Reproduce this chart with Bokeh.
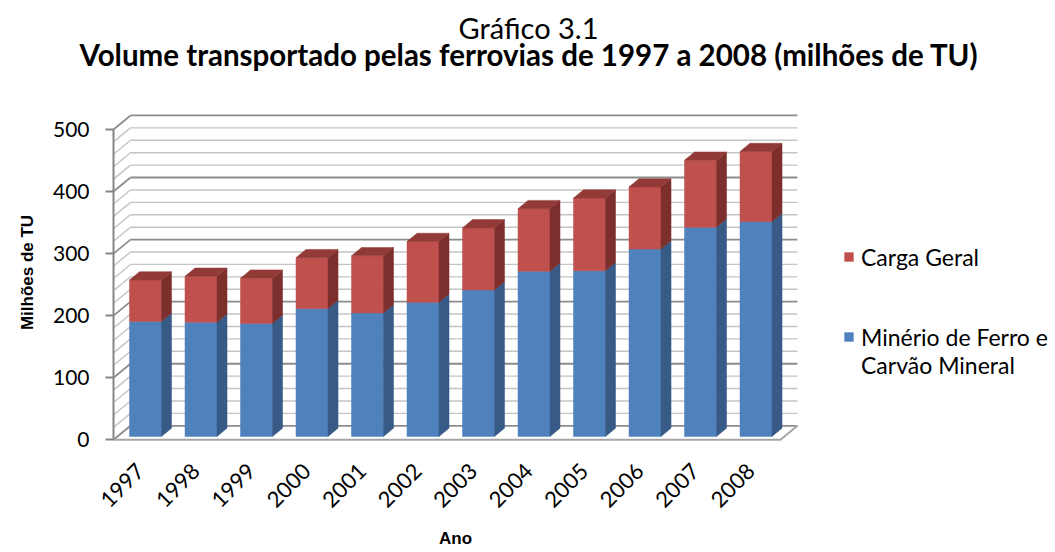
import numpy as np
from bokeh.plotting import figure
from bokeh.models import Range1d, FixedTicker, Legend, LegendItem, LinearAxis
from bokeh.core.properties import value
from bokeh.embed import file_html
from bokeh.resources import INLINE

# ---------------- data ----------------
years = ["1997", "1998", "1999", "2000", "2001", "2002",
         "2003", "2004", "2005", "2006", "2007", "2008"]
minerio = [185, 184, 182, 206, 199, 216, 236, 266, 267, 302, 337, 346]
carga = [67, 74, 73, 82, 92, 98, 100, 101, 117, 100, 108, 113]
y_ticks = [0, 100, 200, 300, 400, 500]
grid_step = 20
title_top = "Gráfico 3.1"
title_main = "Volume transportado pelas ferrovias de 1997 a 2008 (milhões de TU)"
y_title = "Milhões de TU"
x_title = "Ano"
label_carga = "Carga Geral"
label_minerio = ["Minério de Ferro e", "Carvão Mineral"]

# ---------------- style / geometry ----------------
BLUE_FRONT, BLUE_SIDE = "#4F81BD", "#375A87"
RED_FRONT, RED_SIDE, RED_TOP = "#C0504D", "#7C2F2D", "#923A37"
GRID_MINOR, GRID_MAJOR, AXIS = "#C4C4C4", "#8C8C8C", "#868686"

W, H = 1055, 552
SX = 55.5        # px per category step
SY = 0.6207      # px per unit
BAR0_PX = 145    # page x of first bar centre
ZERO_PX = 439.3  # page y of value 0 on the front axis


def px_x(ix):
    return (ix - BAR0_PX) / SX


def px_y(iy):
    return (ZERO_PX - iy) / SY


x_range = Range1d(px_x(0), px_x(W))
y_range = Range1d(px_y(H), px_y(0))

DX = 17 / SX     # depth offset (x units)
DY = 14 / SY     # depth offset (y units)
n = len(years)
xc = np.arange(n, dtype=float)
m = np.array(minerio, dtype=float)
c = np.array(carga, dtype=float)
tot = m + c
XL = px_x(113)          # front-left (value axis)
XR = n - 0.56           # front-right corner of the floor
bw = 32 / SX
d1, d2 = 0.24, 0.83
B0 = d1 * DY
sdx = (d2 - d1) * DX
sdy = (d2 - d1) * DY

p = figure(width=W, height=H, x_range=x_range, y_range=y_range,
           output_backend="svg", toolbar_location=None,
           x_axis_location=None, y_axis_location=None,
           min_border=0, min_border_left=0, min_border_right=0,
           min_border_top=0, min_border_bottom=0)
p.outline_line_color = None
p.background_fill_color = "white"
p.border_fill_color = "white"
p.grid.visible = False

# walls: back wall + side wall gridlines
gv = np.arange(y_ticks[0], y_ticks[-1] + 1, grid_step)
major = (gv % 100 == 0)
for sel, col, lw in [(~major, GRID_MINOR, 1.4), (major, GRID_MAJOR, 1.8)]:
    v = gv[sel].astype(float)
    k = len(v)
    p.segment(x0=np.full(k, XL + DX), y0=v + DY, x1=np.full(k, XR + DX), y1=v + DY,
              line_color=col, line_width=lw)
    p.segment(x0=np.full(k, XL), y0=v, x1=np.full(k, XL + DX), y1=v + DY,
              line_color=col, line_width=lw)

# floor edge
p.line(x=[XL, XR, XR + DX], y=[0, 0, DY], line_color="#A6A6A6", line_width=2)

# bars
left = xc - bw / 2
right = xc + bw / 2
blue = p.quad(left=left, right=right, bottom=B0, top=B0 + m,
              fill_color=BLUE_FRONT, line_color=BLUE_FRONT, line_width=0.5)
red = p.quad(left=left, right=right, bottom=B0 + m, top=B0 + tot,
             fill_color=RED_FRONT, line_color=RED_FRONT, line_width=0.5)
side_xs = [[r, r + sdx, r + sdx, r] for r in right]
p.patches(xs=side_xs, ys=[[B0, B0 + sdy, B0 + mi + sdy, B0 + mi] for mi in m],
          fill_color=BLUE_SIDE, line_color=BLUE_SIDE, line_width=0.5)
p.patches(xs=side_xs, ys=[[B0 + mi, B0 + mi + sdy, B0 + ti + sdy, B0 + ti] for mi, ti in zip(m, tot)],
          fill_color=RED_SIDE, line_color=RED_SIDE, line_width=0.5)
p.patches(xs=[[l, r, r + sdx, l + sdx] for l, r in zip(left, right)],
          ys=[[t, t, t + sdy, t + sdy] for t in B0 + tot],
          fill_color=RED_TOP, line_color=RED_TOP, line_width=0.5)
dummy = p.quad(left=[], right=[], bottom=[], top=[], fill_alpha=0, line_alpha=0)

# value axis (front-left edge)
ya = LinearAxis(fixed_location=XL, ticker=FixedTicker(ticks=y_ticks))
ya.bounds = (y_ticks[0], y_ticks[-1])
ya.axis_line_color = AXIS
ya.axis_line_width = 2
ya.major_tick_line_color = AXIS
ya.major_tick_line_width = 2
ya.major_tick_out = 8
ya.major_tick_in = 0
ya.minor_tick_line_color = None
ya.major_label_text_font = "Lato"
ya.major_label_text_font_size = "21px"
ya.major_label_text_color = "#000000"
ya.major_label_standoff = 16
p.add_layout(ya, "left")

# category axis (labels anchored slightly left of each bar centre)
tick_pos = [round(i - 0.09, 2) for i in range(n)]
xa = LinearAxis(fixed_location=px_y(444), ticker=FixedTicker(ticks=tick_pos))
xa.major_label_overrides = {t: y for t, y in zip(tick_pos, years)}
xa.major_label_orientation = np.pi / 4
xa.axis_line_color = None
xa.major_tick_line_color = None
xa.minor_tick_line_color = None
xa.major_label_text_font = "Lato"
xa.major_label_text_font_size = "22px"
xa.major_label_text_color = "#000000"
xa.major_label_standoff = 17
p.add_layout(xa, "below")

# axis titles
p.text(x=[px_x(27)], y=[px_y(272)], text=[y_title], angle=np.pi / 2,
       text_font=value("Liberation Sans"), text_font_style="bold",
       text_font_size=value("17px"), text_color="#000000",
       text_align="center", text_baseline="middle")
p.text(x=[px_x(455)], y=[px_y(538)], text=[x_title],
       text_font=value("Liberation Sans"), text_font_style="bold",
       text_font_size=value("17px"), text_color="#000000",
       text_align="center", text_baseline="middle")

# chart titles
p.text(x=[px_x(528)], y=[px_y(27)], text=[title_top],
       text_font=value("Lato"), text_font_size=value("29px"), text_color="#000000",
       text_align="center", text_baseline="alphabetic")
p.text(x=[px_x(528.5)], y=[px_y(54)], text=[title_main],
       text_font=value("Lato"), text_font_style="bold",
       text_font_size=value("29.5px"), text_color="#000000",
       text_align="center", text_baseline="alphabetic")

# legends (inside the frame, positioned in screen px from bottom-left)
common = dict(glyph_width=11, glyph_height=11, label_standoff=7, label_height=25,
              spacing=0, padding=0, margin=0, border_line_color=None,
              background_fill_alpha=0, label_text_font="Lato",
              label_text_font_size="23px", label_text_color="#000000")
legA = Legend(items=[LegendItem(label=label_carga, renderers=[red])],
              location=(843, H - 258 - 12.5), **common)
legB = Legend(items=[LegendItem(label=label_minerio[0], renderers=[blue]),
                     LegendItem(label=label_minerio[1], renderers=[dummy])],
              location=(843, H - 366 - 12.5), **common)
p.add_layout(legA, "center")
p.add_layout(legB, "center")

open("out.html", "w").write(file_html(p, INLINE))
